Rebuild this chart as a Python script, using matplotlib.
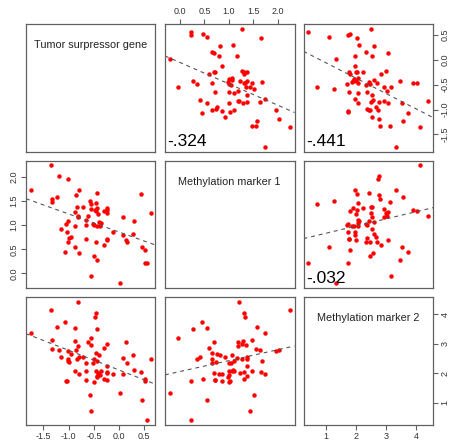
import numpy as np
import matplotlib
matplotlib.use('Agg')
import matplotlib.pyplot as plt
from matplotlib.ticker import FixedLocator, FormatStrFormatter

plt.rcParams['font.family'] = ['Liberation Sans', 'DejaVu Sans']
plt.rcParams['axes.unicode_minus'] = False

# Data: tumor suppressor gene (T), methylation marker 1 (M1), methylation marker 2 (M2)
tsg = [-1.347, -1.182, -1.004, -1.750, -0.786, -1.327, -1.327, -1.222, -0.845, -0.443,
       -0.581, -0.463, -0.548, -0.839, -0.713, -0.430, -0.548, -0.463, -0.245, -0.245,
       -0.291, -0.232, -0.865, -0.819, -0.819, -0.423, -0.621, -0.661, -0.647, -0.509,
       -0.489, -0.436, -0.397, -0.357, -0.377, -1.004, -1.050, -1.142, -1.037, -0.865,
       -0.984, -1.010, -0.951, -0.865, -1.076, -0.799, -0.654, -0.456, -0.245, -0.245,
       -0.291, -0.119, 0.079, 0.303, 0.085, 0.145, 0.151, 0.277, 0.442, 0.627,
       0.461, 0.521, 0.508, 0.561, -0.496, -0.430, -0.555, 0.019, -0.469]
mm1 = [2.242, 2.027, 1.965, 1.736, 1.736, 1.548, 1.479, 1.583, 1.638, 1.666,
       1.513, 1.465, 1.437, 1.374, 1.374, 1.367, 1.340, 1.298, 1.367, 1.312,
       1.298, 1.263, 1.284, 1.201, 1.180, 1.229, 1.194, 1.104, 0.999, 1.034,
       1.006, 0.986, 1.062, 1.055, 0.992, 1.097, 1.027, 0.916, 0.867, 0.992,
       0.729, 0.645, 0.756, 0.555, 0.444, 0.416, 0.715, 0.659, 0.715, 0.694,
       0.590, 0.867, 1.166, 1.090, 0.798, 0.701, 0.659, 0.826, 1.659, 1.263,
       0.555, 0.479, 0.222, 0.222, 0.354, 0.270, -0.049, -0.209, 1.319]
mm2 = [4.147, 2.771, 2.748, 3.346, 1.982, 2.805, 3.132, 3.560, 2.771, 2.421,
       1.271, 2.061, 0.707, 2.489, 2.545, 1.903, 2.940, 4.023, 2.241, 2.049,
       1.812, 2.996, 3.075, 4.406, 2.918, 2.015, 3.042, 2.061, 2.354, 2.342,
       1.700, 1.858, 2.613, 2.083, 1.936, 2.421, 1.745, 2.545, 1.734, 2.083,
       2.376, 2.466, 2.658, 3.538, 3.718, 2.557, 1.779, 2.692, 1.756, 2.004,
       2.850, 1.970, 2.523, 2.094, 1.982, 3.053, 2.342, 2.613, 2.038, 2.489,
       1.091, 1.812, 1.722, 0.414, 2.478, 3.481, 3.177, 1.328, 3.887]

names = ['Tumor surpressor gene', 'Methylation marker 1', 'Methylation marker 2']
corr_labels = {(0, 1): '-.324', (0, 2): '-.441', (1, 2): '-.032'}
ticks = [[-1.5, -1.0, -0.5, 0.0, 0.5],
         [0.0, 0.5, 1.0, 1.5, 2.0],
         [1, 2, 3, 4]]
fmts = ['%.1f', '%.1f', '%d']

data = [np.array(tsg), np.array(mm1), np.array(mm2)]

# R style limits (4% padding)
lims = []
for v in data:
    r = v.max() - v.min()
    lims.append((v.min() - 0.04 * r, v.max() + 0.04 * r))

W, H = 451, 443
lefts = [26, 165, 303.5]
tops = [24, 160.7, 297.3]
pw, ph = 129.5, 127.5

fig = plt.figure(figsize=(W / 100, H / 100), dpi=100)
frame = '#606060'

for i in range(3):
    for j in range(3):
        ax = fig.add_axes([lefts[j] / W, 1 - (tops[i] + ph) / H, pw / W, ph / H])
        ax.set_xlim(lims[j])
        ax.set_ylim(lims[i])
        for s in ax.spines.values():
            s.set_color(frame)
            s.set_linewidth(0.9)
        ax.tick_params(length=3.5, width=0.8, color=frame, labelsize=6.5,
                       labelcolor='#333333', pad=2)
        ax.set_xticks([])
        ax.set_yticks([])

        if i == j:
            ax.text(0.5, 0.835, names[i], transform=ax.transAxes,
                    ha='center', va='center', fontsize=7.8, color='#222222')
        else:
            x, y = data[j], data[i]
            ax.plot(x, y, 'o', color='red', ms=3.2, mec='none')
            slope, icpt = np.polyfit(x, y, 1)
            ax.axline((0, icpt), slope=slope, color='#555555', lw=0.8,
                      ls=(0, (3.5, 3.5)))
            if (i, j) in corr_labels:
                ax.text(0.02, 0.04, corr_labels[(i, j)], transform=ax.transAxes,
                        ha='left', va='baseline', fontsize=12.5, color='black')

        # outer axes, alternating like R pairs()
        if i == 0 and j == 1:
            ax.xaxis.tick_top()
            ax.set_xticks(ticks[j])
            ax.xaxis.set_major_formatter(FormatStrFormatter(fmts[j]))
        if i == 2 and j in (0, 2):
            ax.set_xticks(ticks[j])
            ax.xaxis.set_major_formatter(FormatStrFormatter(fmts[j]))
        if j == 0 and i == 1:
            ax.set_yticks(ticks[i])
            ax.yaxis.set_major_formatter(FormatStrFormatter(fmts[i]))
            plt.setp(ax.get_yticklabels(), rotation=90, va='center')
        if j == 2 and i in (0, 2):
            ax.yaxis.tick_right()
            ax.set_yticks(ticks[i])
            ax.yaxis.set_major_formatter(FormatStrFormatter(fmts[i]))
            plt.setp(ax.get_yticklabels(), rotation=90, va='center')

plt.savefig('out.png', dpi=100)
